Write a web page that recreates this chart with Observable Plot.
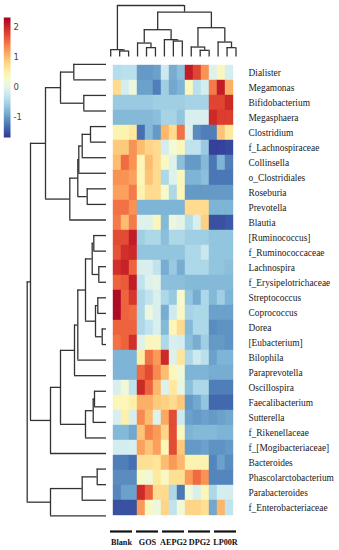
<!DOCTYPE html>
<html><head><meta charset="utf-8">
<script src="https://cdn.jsdelivr.net/npm/d3@7"></script>
<script src="https://cdn.jsdelivr.net/npm/@observablehq/plot@0.6"></script>
<style>
html,body{margin:0;padding:0;background:#fff;}
#chart{position:relative;width:339px;height:550px;overflow:hidden;background:#fff;}
#chart > svg{position:absolute;}
</style></head><body><div id="chart"></div>
<script>
const rowNames = ["Dialister","Megamonas","Bifidobacterium","Megasphaera","Clostridium","f_Lachnospiraceae","Collinsella","o_Clostridiales","Roseburia","Prevotella","Blautia","[Ruminococcus]","f_Ruminococcaceae","Lachnospira","f_Erysipelotrichaceae","Streptococcus","Coprococcus","Dorea","[Eubacterium]","Bilophila","Paraprevotella","Oscillospira","Faecalibacterium","Sutterella","f_Rikenellaceae","f_[Mogibacteriaceae]","Bacteroides","Phascolarctobacterium","Parabacteroides","f_Enterobacteriaceae"];
const groups = ["Blank","GOS","AEPG2","DPG2","LP00R"];
const columns = ["Blank_1","Blank_2","Blank_3","GOS_1","GOS_2","GOS_3","AEPG2_1","AEPG2_2","AEPG2_3","DPG2_1","DPG2_2","DPG2_3","LP00R_1","LP00R_2","LP00R_3"];
const values = [
 [-0.4,-0.35,-0.35, -1.0,-1.0,-0.95, -0.2,-0.85,-0.7, 2.1,1.8,1.3, -0.05,0.35,-0.15],
 [0.75,-0.15,0.1, -0.95,-0.95,-1.2, -0.55,-0.9,-0.8, 0.35,-0.35,-0.15, 1.45,2.1,1.1],
 [-0.6,-0.6,-0.6, -0.6,-0.6,-0.55, -0.55,-0.55,-0.55, -0.5,-0.5,-0.5, 1.8,1.8,2.0],
 [-0.75,-0.75,-0.75, -0.75,-0.75,-0.7, -0.5,-0.5,-0.65, -0.1,-0.1,-0.1, 2.0,1.85,1.85],
 [0.45,0.45,0.6, -1.3,-0.75,-1.0, 1.05,0.75,1.5, -0.05,-1.1,-1.2, -1.2,0.95,0.6],
 [0.9,0.9,1.3, 1.0,0.8,0.75, -0.15,0.2,0.35, -0.3,-0.3,-0.6, -1.6,-1.6,-1.55],
 [1.0,1.55,1.3, 0.4,1.0,0.75, 0.3,-0.05,-0.7, -1.0,-1.0,-0.75, -1.25,-0.8,-1.2],
 [1.3,1.3,1.2, 0.4,0.95,0.75, -0.45,-0.05,0.35, -0.8,-0.8,-0.7, -1.25,-1.25,-1.25],
 [1.2,1.2,1.45, 0.45,0.75,0.75, 0.25,-0.45,0.4, -1.0,-1.0,-1.0, -1.0,-1.0,-1.0],
 [1.5,1.5,1.3, -0.8,-0.8,-0.8, -0.8,-0.8,-0.8, 0.75,0.75,0.75, -0.8,-0.8,-0.8],
 [1.45,1.0,1.45, -0.05,-0.05,0.4, -0.75,0.1,0.0, -0.4,-0.1,0.85, -1.5,-1.5,-1.45],
 [1.75,1.75,2.1, -0.55,-0.45,-0.45, -0.7,-0.45,-0.45, -0.55,-0.55,-0.55, -0.65,-0.65,-0.65],
 [1.7,1.95,2.0, -0.65,-0.65,-0.65, -0.65,-0.65,-0.65, -0.45,-0.45,-0.25, -0.65,-0.65,-0.65],
 [1.95,2.05,1.6, -0.1,-0.1,-0.3, -0.85,-0.6,-0.85, -0.45,-0.45,-0.45, -0.65,-0.65,-0.7],
 [1.6,1.65,2.1, -0.3,-0.05,0.0, -0.7,-0.7,-0.7, -0.75,-0.75,-0.75, -0.75,-0.75,-0.75],
 [2.25,1.6,1.9, -0.45,-0.3,-0.1, -0.45,-0.6,0.25, -0.65,-0.85,-0.45, -0.75,-0.55,-0.8],
 [2.25,1.6,1.55, -0.45,0.1,-0.1, -0.85,-0.2,0.3, -0.5,-0.45,-0.45, -0.95,-0.95,-0.95],
 [1.6,1.6,1.6, -0.45,-0.3,-0.1, -0.75,0.4,0.75, -0.75,-0.45,-0.45, -1.1,-1.05,-1.05],
 [1.5,1.6,1.95, -0.05,0.35,0.35, -0.45,-0.1,-0.15, -0.7,-0.85,-0.55, -1.0,-1.0,-1.05],
 [-0.8,-0.8,-0.8, 0.55,1.5,1.25, 2.0,-0.05,0.65, -0.45,-0.2,-0.35, -0.95,-0.8,-0.8],
 [-0.8,-0.8,-0.8, 1.55,1.75,1.35, 1.0,0.35,0.15, -0.8,-0.8,-0.8, -0.85,-0.85,-0.85],
 [-0.1,0.15,-0.3, 2.0,1.6,1.05, -0.05,0.6,0.05, -0.7,-0.45,-0.45, -1.2,-1.2,-1.2],
 [0.4,0.4,0.5, 1.1,1.1,0.9, 0.85,0.75,0.9, -1.0,-0.9,-0.65, -1.35,-1.35,-1.35],
 [-0.1,0.5,-0.1, 1.35,1.0,-0.05, 1.15,1.75,-0.2, -0.95,-1.0,-0.95, -1.0,-0.95,-0.9],
 [-0.75,-0.75,-0.9, 0.95,1.4,1.25, 0.8,1.75,0.35, -0.8,-0.75,-0.75, -0.75,-0.8,-0.8],
 [-0.15,-0.15,-0.1, 1.2,0.95,1.2, 0.4,1.75,0.9, -1.0,-1.0,-0.95, -1.05,-1.05,-1.0],
 [-1.2,-1.2,-1.3, 0.7,0.7,0.65, 1.0,1.25,1.05, 0.45,0.45,0.45, -1.15,-0.95,-1.1],
 [-1.1,-1.1,-1.1, 0.3,0.15,0.6, 0.3,0.7,0.7, 1.25,1.55,1.3, -1.15,-1.15,-1.15],
 [-1.15,-0.95,-0.95, 2.0,1.6,0.75, 0.75,-0.45,-1.25, 0.15,-0.1,0.4, -0.45,-0.15,-0.15],
 [-1.5,-1.5,-1.5, 1.25,0.3,0.1, 0.8,-0.3,0.15, 0.8,0.8,0.7, -0.9,1.05,-0.3]
];
// dendrograms: [height, left, right]
const rowTree = [79.3,
  [56, "Dialister", [24.3, "Megamonas", [9.3, "Bifidobacterium", "Megasphaera"]]],
  [76,
    [56, "Clostridium",
      [46,
        [21, "f_Lachnospiraceae", [13.3, "Collinsella", [12, "o_Clostridiales", "Roseburia"]]],
        [32, "Prevotella",
          [28.7, "Blautia",
            [21,
              [11, [4.3, "[Ruminococcus]", "f_Ruminococcaceae"], [8.7, "Lachnospira", "f_Erysipelotrichaceae"]],
              [14.3, [7.7, "Streptococcus", "Coprococcus"], [12.7, "Dorea", "[Eubacterium]"]]]]]]],
    [61,
      [36.7, "Bilophila",
        [28.7, [19.3, "Paraprevotella", "Oscillospira"],
          [27.7, "Faecalibacterium", [24.3, "Sutterella", [16, "f_Rikenellaceae", "f_[Mogibacteriaceae]"]]]]],
      [46, [22.7, "Bacteroides", "Phascolarctobacterium"], [32.7, "Parabacteroides", "f_Enterobacteriaceae"]]]]];
const colTree = [51.7,
  [7.4, "Blank_1", [6, "Blank_2", "Blank_3"]],
  [45,
    [27.4, [14, "GOS_1", [9.4, "GOS_2", "GOS_3"]], [17.4, "AEPG2_1", [16, "AEPG2_2", "AEPG2_3"]]],
    [29.4, [10, "DPG2_1", [6.7, "DPG2_2", "DPG2_3"]], [15, "LP00R_1", [9.4, "LP00R_2", "LP00R_3"]]]]];
const colorTicks = [-1, 0, 1, 2];
const colorDomain = [-1.67, 2.33];

const colorScale = () => ({type: "linear", scheme: "RdYlBu", reverse: true, domain: colorDomain});
const serif = "'Liberation Serif', 'DejaVu Serif', serif";
const lineColor = "#333";

function dendro(tree, order) {
  const verts = [], horiz = [];
  function walk(n) {
    if (typeof n === "string") return {p: order.indexOf(n), h: 0};
    const [h, a, b] = n;
    const A = walk(a), B = walk(b);
    verts.push({h, p1: A.p, p2: B.p});
    horiz.push({p: A.p, h1: A.h, h2: h}, {p: B.p, h1: B.h, h2: h});
    return {p: (A.p + B.p) / 2, h};
  }
  walk(tree);
  return {verts, horiz};
}

const cells = rowNames.flatMap((r, i) => columns.map((c, j) => ({row: r, col: c, value: values[i][j]})));
const chart = document.getElementById("chart");
function place(svg, left, top) { svg.style.left = left + "px"; svg.style.top = top + "px"; chart.appendChild(svg); }

// heatmap
const heat = Plot.plot({
  width: 339, height: 550,
  marginLeft: 105.7, marginRight: 99, marginTop: 56, marginBottom: 27,
  x: {domain: columns, padding: 0, axis: null},
  y: {domain: rowNames, padding: 0},
  color: colorScale(),
  style: {background: "transparent", fontFamily: serif, fontSize: "9.4px", color: "#1a1a1a"},
  marks: [
    Plot.cell(cells, {x: "col", y: "row", fill: "value", stroke: "value", strokeWidth: 0.4}),
    Plot.axisY({anchor: "right", tickSize: 0, tickPadding: 8, label: null})
  ]
});
place(heat, 0, 0);

// row dendrogram
const rd = dendro(rowTree, rowNames);
const rowDen = Plot.plot({
  width: 106, height: 550,
  marginLeft: 26.7, marginRight: 0, marginTop: 63.8, marginBottom: 34.7,
  x: {domain: [0, rowTree[0]], reverse: true, axis: null},
  y: {domain: [0, rowNames.length - 1], axis: null},
  style: {background: "transparent"},
  marks: [
    Plot.ruleX(rd.verts, {x: "h", y1: "p1", y2: "p2", stroke: lineColor, strokeWidth: 1.3}),
    Plot.ruleY(rd.horiz, {y: "p", x1: "h1", x2: "h2", stroke: lineColor, strokeWidth: 1.3})
  ]
});
place(rowDen, 0, 0);

// column dendrogram
const cd = dendro(colTree, columns);
const colDen = Plot.plot({
  width: 339, height: 60,
  marginLeft: 110.2, marginRight: 103.5, marginTop: 5, marginBottom: 3.5,
  x: {domain: [0, columns.length - 1], axis: null},
  y: {domain: [0, colTree[0]], axis: null},
  style: {background: "transparent"},
  marks: [
    Plot.ruleY(cd.verts, {y: "h", x1: "p1", x2: "p2", stroke: lineColor, strokeWidth: 1.3}),
    Plot.ruleX(cd.horiz, {x: "p", y1: "h1", y2: "h2", stroke: lineColor, strokeWidth: 1.3})
  ]
});
place(colDen, 0, 0);

// group bars and labels
const grp = Plot.plot({
  width: 339, height: 24,
  marginLeft: 105.7, marginRight: 99, marginTop: 0, marginBottom: 19,
  x: {domain: groups, paddingInner: 0.14, paddingOuter: 0.06},
  y: {domain: [0, 1], axis: null},
  style: {background: "transparent", fontFamily: serif, fontSize: "8.2px", fontWeight: "bold", color: "#111"},
  marks: [
    Plot.tickY(groups, {x: d => d, y: 0, stroke: "#111", strokeWidth: 2.2}),
    Plot.axisX({anchor: "bottom", tickSize: 0, tickPadding: 8, label: null})
  ]
});
place(grp, 0, 526);

// color bar
const bar = Plot.plot({
  width: 30, height: 150,
  marginLeft: 3.3, marginRight: 20, marginTop: 17, marginBottom: 13,
  x: {domain: [0, 1], axis: null},
  y: {domain: colorDomain},
  color: colorScale(),
  style: {background: "transparent", fontFamily: "'DejaVu Sans', sans-serif", fontSize: "8.5px", color: "#444"},
  marks: [
    Plot.raster({fill: (x, y) => y, x1: 0, x2: 1, y1: colorDomain[0], y2: colorDomain[1], width: 1, height: 200}),
    Plot.axisY({anchor: "right", ticks: colorTicks, tickSize: 0, tickPadding: 3, tickFormat: d => String(d), label: null})
  ]
});
place(bar, 0, 0);
</script></body></html>
